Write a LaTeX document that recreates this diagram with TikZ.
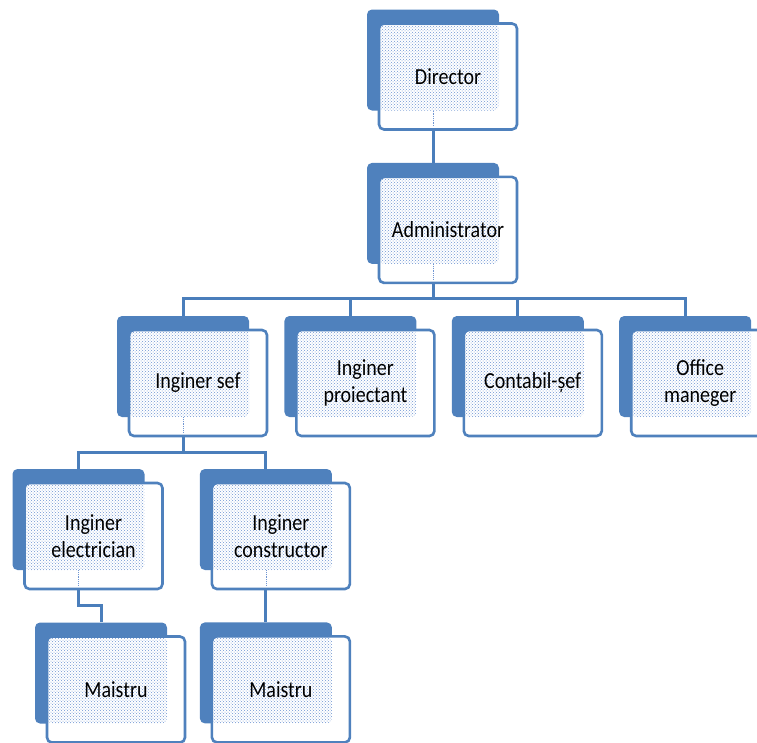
\documentclass[tikz,border=0pt]{standalone}
\usepackage{fontspec}
\setmainfont[FakeStretch=0.87]{Carlito}
\usetikzlibrary{positioning,calc,patterns}
\definecolor{boxblue}{RGB}{79,129,189}
\definecolor{linkblue}{RGB}{74,126,187}
\definecolor{dotblue}{RGB}{112,150,210}

\begin{document}
\begin{tikzpicture}[x=1pt,y=-1pt,font=\fontsize{23}{27}\selectfont,
	s/.style={fill=boxblue,rounded corners=5pt,inner sep=0pt,minimum width=132pt,minimum height=101pt},
	c/.style={draw=boxblue,line width=2.6pt,fill=white,rounded corners=5pt,inner sep=0pt,minimum width=138pt,minimum height=106pt,align=center,
		path picture={\fill[pattern=crosshatch dots,pattern color=dotblue] (path picture bounding box.north west) rectangle ($(path picture bounding box.south east)+(-18pt,19pt)$);}},
	link/.style={draw=linkblue,line width=3pt},
	trace/.style={draw=dotblue,line width=0.8pt,densely dotted}]
	\useasboundingbox (0,0) rectangle (757,742);
	%sus
	\node(s1)[s] at (433,60){};
	\node(s2)[s,below=52pt of s1]{};
	%rand 2
	\node(s3)[s] at (183,366.5){};
	\node(s4)[s,right=35pt of s3]{};
	\node(s5)[s,right=35pt of s4]{};
	\node(s6)[s,right=35pt of s5]{};
	%rand 3
	\node(s7)[s] at (78.5,519.5){};
	\node(s8)[s,right=55pt of s7]{};
	%rand 4
	\node(s9)[s] at (101,673){};
	\node(s10)[s,below=52pt of s8]{};
	%legaturi
	\coordinate(j1) at (433,298);
	\coordinate(j2) at (183,452);
	\coordinate(j3) at (101,605);
	\draw[link] (s1.south) -- (s2.north);
	\draw[link] (s2.south) -- (j1);
	\foreach \n in {3,4,5,6} \draw[link] (j1) -| (s\n.north);
	\draw[link] (s3.south) -- (j2);
	\foreach \n in {7,8} \draw[link] (j2) -| (s\n.north);
	\draw[link] (s7.south) |- (j3) -- (s9.north);
	\draw[link] (s8.south) -- (s10.north);
	%casete
	\node(c1)[c] at ($(s1)+(15,16.5)$){Director};
	\node(c2)[c] at ($(s2)+(15,16.5)$){Administrator};
	\node(c3)[c] at ($(s3)+(15,16.5)$){Inginer sef};
	\node(c4)[c] at ($(s4)+(15,16.5)$){Inginer\\proiectant};
	\node(c5)[c] at ($(s5)+(15,16.5)$){Contabil-șef};
	\node(c6)[c] at ($(s6)+(15,16.5)$){Office\\maneger};
	\node(c7)[c] at ($(s7)+(15,16.5)$){Inginer\\electrician};
	\node(c8)[c] at ($(s8)+(15,16.5)$){Inginer\\constructor};
	\node(c9)[c] at ($(s9)+(15,16.5)$){Maistru};
	\node(c10)[c] at ($(s10)+(15,16.5)$){Maistru};
	\foreach \n in {1,2,3,7,8} \draw[trace] (s\n.south) -- ++(0,15);
\end{tikzpicture}
\end{document}
